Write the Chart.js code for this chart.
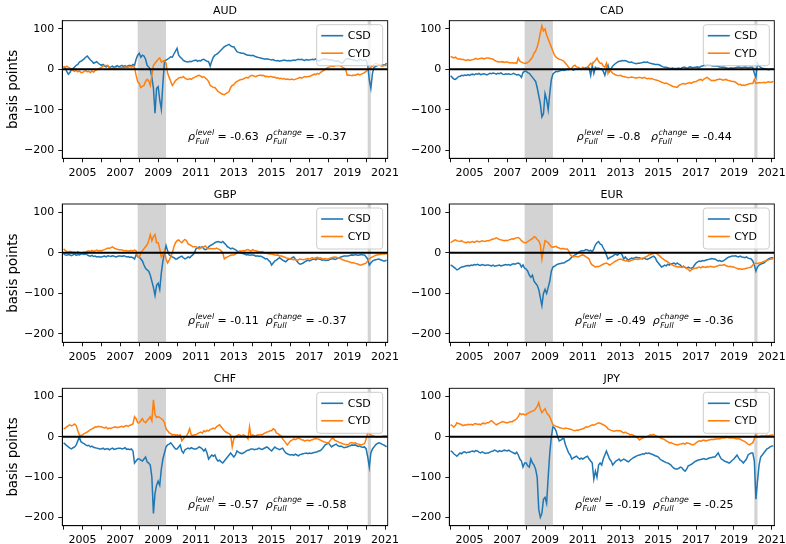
<!DOCTYPE html>
<html lang="en">
<head>
<meta charset="UTF-8">
<title>CSD vs CYD</title>
<script src="https://cdn.jsdelivr.net/npm/chart.js"></script>
<style>
  body { margin: 0; background: #fff; width: 786px; height: 544px; position: relative; overflow: hidden; }
  canvas { position: absolute; }
</style>
</head>
<body>
<script>
// monthly observations, Jan 2004 .. Feb 2021
const startYear = 2004;
const nObs = 206;
const months = [];
for (let i = 0; i < nObs; i++) months.push(startYear + i / 12);

// recession shading (NBER): Dec 2007 - Jun 2009, Feb 2020 - Apr 2020
const recessionStart = [2007.917, 2020.083];
const recessionEnd = [2009.417, 2020.25];

const xTicks = [2005, 2007, 2009, 2011, 2013, 2015, 2017, 2019, 2021];
const yTicks = [-200, -100, 0, 100];

const audCSD = [
  7, 3, -5, -12, -8, 0, 2, 6, 10, 12, 18, 20,
  23, 26, 30, 33, 28, 23, 20, 15, 17, 19, 15, 12,
  10, 12, 8, 6, 9, 5, 6, 8, 5, 7, 9, 6,
  8, 10, 7, 9, 6, 9, 10, 8, 12, 10, 25, 35,
  40, 30, 35, 33, 25, 10, 6, 0, -20, -47, -109, -47,
  -43, -76, -99, -35, 19, 23, 25, 28, 31, 30, 38, 45,
  52, 35, 30, 27, 22, 20, 19, 18, 20, 19, 21, 22,
  23, 20, 22, 21, 24, 25, 22, 20, 19, 8, 20, 30,
  35, 37, 40, 44, 48, 52, 56, 58, 60, 62, 58, 56,
  56, 50, 44, 42, 41, 40, 40, 38, 36, 35, 35, 34,
  35, 33, 31, 30, 29, 28, 27, 26, 25, 26, 25, 24,
  23, 24, 22, 21, 22, 20, 21, 22, 23, 22, 21, 22,
  21, 22, 23, 22, 24, 25, 24, 25, 23, 22, 24, 23,
  23, 24, 25, 24, 26, 22, 21, 23, 24, 25, 26, 25,
  23, 24, 23, 22, 21, 20, 21, 19, 16, 15, 20, 25,
  27, 26, 25, 24, 23, 22, 21, 22, 24, 23, 22, 23,
  23, 10, -26, -47, -10, 5, 7, 9, 11, 10, 12, 11,
  11, 15
];
const audCYD = [
  7, 5, 8, 5, 3, 0, -3, -5, -2, -6, -4, -8,
  -8, -5, -3, -6, -5, -8, -4, -7, -3, -1, 0, 3,
  5, 8, 10, 9, 10, 2, 0, 3, 2, 4, 1, 3,
  3, 5, 4, 6, 5, 5, 7, 6, 7, 5, -15, -30,
  -35, -45, -42, -40, -30, -25, -28, -40, -15, 10, 15, 20,
  25, 28, 18, 20, 22, 15, -10, -20, -30, -40, -35, -28,
  -25, -22, -20, -21, -18, -22, -24, -25, -23, -25, -22, -20,
  -18, -16, -15, -17, -20, -18, -22, -25, -30, -40, -42, -45,
  -45, -50, -55, -57, -60, -62, -63, -60, -58, -55, -45, -40,
  -38, -33, -30, -28, -26, -25, -24, -22, -20, -22, -18, -15,
  -15, -17, -18, -16, -15, -14, -16, -15, -18, -17, -19, -18,
  -18, -20, -19, -22, -21, -23, -22, -24, -23, -25, -24, -25,
  -25, -24, -26, -25, -23, -22, -20, -22, -20, -18, -19, -18,
  -18, -16, -14, -12, -13, -10, -12, -8, -5, -3, 0, 3,
  5, 6, 8, 7, 8, 10, 9, 10, 8, 5, 3, 0,
  -15, -14, -15, -16, -14, -15, -13, -12, -14, -12, -10, -8,
  -5, 0, 2, 5, 8, 12, 15, 13, 12, 10, 8, 9,
  10, 9
];

const cadCSD = [
  -16, -20, -24, -25, -22, -18, -17, -15, -16, -14, -15, -13,
  -15, -13, -12, -14, -11, -12, -10, -13, -12, -11, -12, -14,
  -12, -10, -11, -9, -10, -12, -10, -11, -9, -12, -13, -11,
  -12, -11, -13, -12, -10, -12, -14, -13, -15, -20, -8, -5,
  -5, -8, -10, -15, -20, -25, -30, -45, -65, -85, -118, -110,
  -60, -75, -100, -60, -25, -12, -8, -5, -6, -4, -3, -2,
  -3, -2, 0, -1, 1, 0, -2, 0, 1, 0, 2, 0,
  0, 2, 4, 5, 3, -15, 10, -10, 5, 2, 3, 1,
  2, -5, -15, 0, 10, -5, 2, 8, 12, 15, 18, 20,
  20, 22, 21, 22, 20, 18, 17, 18, 16, 15, 14, 15,
  15, 16, 17, 18, 17, 18, 16, 15, 14, 13, 12, 12,
  12, 10, 8, 6, 5, 5, 4, 3, 2, 3, 2, 2,
  2, 3, 1, 4, 5, 5, 3, 4, 6, 5, 4, 5,
  5, 6, 4, 7, 8, 10, 9, 12, 11, 10, 9, 8,
  8, 9, 7, 6, 5, 6, 5, 4, 3, 2, 4, 3,
  3, 4, 5, 6, 5, 4, 5, 6, 5, 4, 5, 5,
  5, -10, -20, 15, 8, 5, 3, 2, 1, 0, -1, 0,
  0, 1
];
const cadCYD = [
  32, 30, 28, 30, 27, 25, 26, 24, 25, 23, 22, 24,
  22, 23, 24, 25, 27, 25, 26, 27, 28, 26, 27, 28,
  28, 27, 26, 25, 22, 20, 19, 18, 18, 19, 17, 18,
  18, 17, 16, 17, 15, 16, 15, 28, 20, 18, 16, 15,
  15, 17, 20, 25, 30, 40, 45, 55, 70, 90, 108, 95,
  100, 85, 75, 65, 55, 45, 35, 30, 27, 25, 24, 22,
  20, 15, 10, 5, 0, 3, 8, 10, 6, 5, 3, 0,
  5, 3, 0, 5, 10, 15, 12, 18, 22, 28, 20, 15,
  15, 8, 5, 15, -10, 0, -5, -10, -12, -14, -15, -16,
  -15, -17, -18, -19, -20, -21, -20, -19, -20, -21, -22, -20,
  -20, -21, -22, -20, -22, -23, -22, -24, -23, -25, -26, -27,
  -28, -30, -32, -33, -35, -34, -36, -38, -40, -42, -43, -44,
  -45, -40, -38, -36, -35, -37, -35, -34, -33, -35, -32, -31,
  -30, -28, -26, -25, -28, -24, -22, -20, -23, -26, -28, -27,
  -28, -26, -25, -24, -25, -27, -26, -25, -27, -28, -29, -30,
  -30, -32, -35, -38, -37, -40, -39, -40, -38, -37, -36, -35,
  -35, -25, -35, -34, -33, -34, -33, -32, -33, -32, -31, -32,
  -32, -30
];

const gbpCSD = [
  -3, -5, -6, -4, -5, -7, -5, -3, -6, -4, -5, -3,
  -3, -4, -2, -5, -7, -8, -6, -9, -8, -10, -9, -10,
  -10, -9, -8, -10, -7, -8, -9, -7, -8, -10, -9, -8,
  -8, -9, -7, -8, -10, -9, -11, -10, -12, -15, -5, -8,
  -10, -15, -20, -30, -38, -42, -45, -55, -70, -85, -105, -80,
  -75, -90, -50, -20, 0, 18, 5, -5, -8, -10, -12, -15,
  -15, -12, -10, -8, -12, -15, -13, -10, -12, -8, -5, 0,
  10, 12, 15, 13, 15, 10, 8, 10, 15, 18, 20, 22,
  25, 27, 28, 27, 25, 28, 24, 20, 15, 13, 10, 12,
  10, 8, 5, 3, 2, 0, -2, -3, -5, -4, -6, -5,
  -5, -6, -8, -7, -9, -8, -10, -12, -15, -14, -18, -22,
  -30, -25, -20, -18, -15, -12, -15, -18, -20, -22, -18, -15,
  -15, -12, -10, -15, -20, -25, -28, -27, -25, -22, -20, -18,
  -20, -18, -16, -15, -17, -14, -15, -16, -18, -17, -19, -18,
  -18, -16, -15, -14, -16, -15, -13, -12, -10, -9, -8, -8,
  -8, -7, -6, -5, -6, -4, -5, -6, -5, -4, -5, -5,
  -10, -15, -30, -25, -20, -18, -17, -16, -15, -17, -18, -20,
  -20, -18
];
const gbpCYD = [
  10, 6, 3, 2, 4, 3, 1, 2, 0, 3, 1, 0,
  0, 2, 1, 4, 5, 3, 6, 4, 5, 7, 5, 6,
  5, 7, 8, 10, 12, 11, 13, 15, 12, 10, 9, 8,
  8, 7, 6, 5, 6, 4, 5, 6, 5, 7, 5, -10,
  -10, 0, 5, 10, 15, 20, 30, 45, 30, 40, 45, 25,
  25, 10, -10, -5, 5, -15, -25, -18, -10, 0, 15, 25,
  30, 32, 28, 25, 30, 33, 30, 22, 20, 18, 15, 15,
  15, 13, 10, 12, 14, 15, 17, 12, 10, 11, 10, 10,
  10, 12, 10, 8, 5, 0, -15, -12, -10, -8, -6, -5,
  -5, -3, 0, 2, 5, 4, 6, 5, 7, 8, 6, 5,
  8, 6, 5, 4, 3, 2, 3, 1, 0, -1, -2, -3,
  -3, -4, -5, -6, -5, -8, -7, -9, -10, -12, -13, -14,
  -15, -16, -17, -16, -18, -17, -15, -16, -17, -16, -15, -14,
  -15, -13, -12, -14, -12, -11, -13, -12, -14, -15, -14, -15,
  -15, -13, -12, -11, -10, -11, -12, -13, -15, -17, -18, -20,
  -20, -22, -23, -25, -24, -26, -27, -28, -30, -30, -28, -27,
  -25, -20, -15, -12, -10, -8, -6, -5, -4, -4, -3, -3,
  -3, -2
];

const eurCSD = [
  -30, -32, -35, -38, -42, -40, -37, -35, -34, -33, -32, -31,
  -32, -30, -31, -29, -30, -28, -30, -31, -29, -30, -31, -30,
  -30, -31, -32, -30, -33, -32, -31, -30, -32, -31, -30, -29,
  -30, -29, -31, -28, -27, -28, -26, -25, -27, -35, -30, -38,
  -40, -45, -55, -60, -55, -70, -75, -80, -90, -110, -130, -100,
  -90, -100, -85, -70, -45, -35, -33, -30, -28, -27, -26, -25,
  -25, -22, -20, -18, -15, -10, -8, -5, -3, 0, 3, 5,
  5, 6, 8, 7, 5, 6, 3, 10, 20, 25, 28, 22,
  20, 12, 5, -5, -15, -12, -10, -8, -5, -3, -6, -2,
  0, -5, -15, -10, -15, -18, -15, -13, -14, -12, -11, -12,
  -12, -14, -15, -13, -15, -16, -14, -12, -10, -8, -12, -20,
  -25, -30, -35, -33, -30, -32, -28, -30, -27, -26, -25, -28,
  -25, -28, -30, -35, -33, -36, -38, -35, -37, -38, -36, -30,
  -25, -22, -20, -21, -19, -20, -18, -17, -16, -15, -14, -15,
  -15, -18, -20, -19, -21, -20, -18, -15, -12, -10, -9, -8,
  -8, -7, -9, -10, -8, -10, -11, -12, -10, -13, -14, -15,
  -20, -30, -45, -35, -30, -28, -26, -25, -22, -18, -15, -13,
  -12, -12
];
const eurCYD = [
  25, 28, 30, 32, 30, 29, 28, 30, 27, 26, 25, 27,
  25, 27, 28, 26, 28, 29, 27, 28, 30, 29, 28, 30,
  30, 31, 33, 34, 35, 37, 35, 33, 32, 31, 30, 31,
  30, 32, 33, 35, 34, 36, 37, 38, 35, 30, 27, 25,
  25, 28, 30, 33, 35, 40, 38, 33, 30, 20, -15, 10,
  30, 28, 25, 20, 15, 14, 15, 16, 13, 12, 10, 11,
  10, 9, 10, 5, -5, -8, -10, -8, -9, -10, -8, -6,
  -5, -7, -10, -12, -15, -25, -30, -32, -35, -33, -34, -32,
  -30, -28, -26, -25, -27, -30, -28, -25, -22, -20, -18, -16,
  -15, -17, -18, -20, -19, -21, -20, -18, -17, -16, -15, -16,
  -15, -14, -13, -12, -10, -8, -5, -4, -3, -1, 0, -2,
  -5, -8, -12, -15, -18, -20, -22, -25, -28, -30, -32, -33,
  -35, -34, -35, -36, -34, -35, -38, -40, -45, -42, -40, -38,
  -38, -36, -35, -37, -34, -35, -36, -34, -35, -33, -34, -35,
  -35, -33, -32, -30, -31, -30, -29, -32, -33, -34, -33, -35,
  -35, -37, -38, -40, -39, -41, -40, -39, -38, -37, -36, -35,
  -30, -27, -25, -26, -25, -24, -23, -21, -20, -19, -17, -16,
  -15, -14
];

const chfCSD = [
  -15, -18, -22, -25, -28, -30, -27, -25, -20, -10, 0, -12,
  -15, -17, -20, -22, -21, -25, -23, -26, -27, -28, -29, -30,
  -30, -28, -31, -30, -29, -32, -30, -28, -31, -30, -29, -28,
  -28, -30, -29, -27, -31, -30, -32, -30, -35, -65, -60, -55,
  -55, -58, -60, -55, -50, -62, -65, -70, -100, -190, -140, -120,
  -110, -120, -80, -55, -40, -25, -20, -18, -15, -20, -25, -30,
  -30, -25, -20, -35, -40, -32, -30, -28, -30, -27, -29, -30,
  -30, -28, -25, -27, -30, -35, -30, -40, -55, -50, -45, -48,
  -45, -55, -60, -58, -62, -65, -60, -55, -50, -45, -40, -45,
  -50, -45, -35, -38, -40, -42, -40, -38, -35, -33, -32, -30,
  -30, -32, -31, -30, -28, -30, -31, -29, -27, -25, -28, -32,
  -35, -30, -25, -28, -30, -32, -30, -28, -35, -40, -42, -44,
  -45, -44, -46, -43, -45, -47, -44, -43, -42, -41, -40, -42,
  -40, -41, -40, -39, -38, -37, -35, -34, -30, -25, -20, -18,
  -15, -20, -25, -22, -20, -18, -22, -24, -23, -25, -27, -26,
  -25, -23, -22, -20, -21, -20, -22, -24, -23, -25, -26, -25,
  -30, -50, -75, -40, -30, -25, -20, -17, -15, -16, -18, -20,
  -22, -25
];
const chfCYD = [
  20, 22, 25, 28, 30, 27, 29, 32, 28, 15, 5, 3,
  5, 8, 10, 12, 15, 18, 20, 22, 25, 24, 26, 25,
  25, 23, 22, 24, 20, 22, 21, 23, 24, 25, 23, 24,
  25, 26, 24, 27, 28, 26, 29, 30, 32, 50, 45, 35,
  35, 40, 45, 38, 35, 40, 45, 50, 40, 92, 55, 48,
  50, 48, 45, 42, 35, 20, 15, 10, 8, 5, 6, 4,
  5, 3, 5, -10, -5, 0, 2, 10, 20, 5, 3, 5,
  5, 8, 10, 12, 9, 15, 13, 16, 15, 18, 20, 22,
  20, 25, 28, 30, 25, 20, 15, 12, 10, 8, 5, -25,
  -5, 0, 3, 5, 4, 2, 5, 3, 0, -5, 25, 0,
  5, 3, 2, 5, 4, 6, 5, 8, 10, 12, 13, 15,
  15, 20, 18, 10, 8, 5, 2, -5, -10, -15, -20, -15,
  -10, -8, -5, -7, -5, -3, -5, -7, -8, -10, -9, -8,
  -10, -8, -7, -5, -4, -5, -6, -8, -10, -12, -13, -15,
  -15, -10, -5, -3, -8, -10, -12, -14, -15, -17, -18, -19,
  -20, -18, -15, -14, -16, -15, -17, -18, -19, -20, -18, -17,
  -5, 10, 8, 5, 3, 2, 0, -1, 1, 0, 1, 2,
  2, 3
];

const jpyCSD = [
  -35, -37, -42, -45, -48, -44, -40, -42, -38, -37, -40, -38,
  -38, -36, -35, -37, -34, -35, -38, -40, -37, -39, -41, -40,
  -40, -38, -36, -35, -33, -35, -37, -34, -36, -35, -33, -34,
  -35, -33, -36, -38, -40, -42, -38, -45, -55, -60, -75, -65,
  -65, -72, -75, -55, -65, -70, -80, -100, -180, -200, -190, -155,
  -150, -165, -100, -40, 0, 25, 22, 15, 0, -10, -8, -5,
  -5, -20, -30, -40, -45, -55, -52, -50, -48, -52, -55, -53,
  -55, -52, -50, -48, -55, -60, -65, -105, -85, -100, -70, -65,
  -70, -55, -45, -35, -45, -55, -60, -70, -65, -60, -58, -55,
  -60, -58, -55, -57, -60, -62, -58, -55, -52, -50, -48, -46,
  -45, -44, -42, -43, -40, -41, -40, -42, -43, -45, -47, -48,
  -50, -55, -58, -60, -62, -64, -65, -67, -70, -75, -78, -80,
  -80, -78, -75, -77, -82, -85, -80, -72, -70, -68, -65, -62,
  -60, -58, -57, -56, -55, -54, -56, -55, -53, -52, -51, -50,
  -50, -45, -40, -48, -55, -57, -60, -62, -63, -65, -62, -58,
  -55, -50, -45, -52, -58, -60, -65, -60, -55, -45, -42, -40,
  -40, -60, -155, -110, -70, -50, -45, -40, -35, -30, -28, -25,
  -23, -22
];
const jpyCYD = [
  30, 28, 24, 28, 35, 33, 32, 30, 28, 30, 29, 31,
  30, 31, 29, 32, 33, 31, 32, 30, 33, 34, 32, 35,
  35, 38, 40, 37, 33, 30, 32, 34, 36, 38, 37, 35,
  35, 36, 38, 37, 40, 42, 45, 50, 58, 55, 57, 55,
  55, 58, 60, 62, 64, 65, 70, 75, 85, 70, 60, 65,
  70, 60, 55, 50, 40, 30, 28, 26, 25, 23, 22, 21,
  20, 22, 21, 20, 19, 18, 16, 15, 17, 16, 18, 19,
  20, 22, 25, 24, 26, 28, 30, 29, 31, 33, 35, 34,
  32, 30, 28, 25, 20, 18, 16, 15, 14, 15, 16, 15,
  15, 12, 10, 12, 9, 8, 5, 6, 4, 2, 0, -3,
  -8, -5, -3, -2, 0, 1, 3, 5, 4, 6, 3, 2,
  0, -2, -4, -5, -7, -10, -12, -15, -14, -16, -18, -19,
  -20, -19, -18, -17, -16, -18, -15, -16, -17, -19, -20, -18,
  -15, -12, -10, -11, -9, -8, -10, -9, -8, -7, -6, -7,
  -5, -6, -4, -5, -3, -2, -3, -2, -1, -3, -2, -3,
  -3, -4, -5, -4, -6, -8, -10, -12, -15, -18, -20, -17,
  -15, -5, 5, 0, 1, 2, 3, 2, 3, 4, 3, 4,
  4, 5
];

const panels = [
  { name: 'AUD', csd: audCSD, cyd: audCYD, level: '-0.63', change: '-0.37' },
  { name: 'CAD', csd: cadCSD, cyd: cadCYD, level: '-0.8', change: '-0.44' },
  { name: 'GBP', csd: gbpCSD, cyd: gbpCYD, level: '-0.11', change: '-0.37' },
  { name: 'EUR', csd: eurCSD, cyd: eurCYD, level: '-0.49', change: '-0.36' },
  { name: 'CHF', csd: chfCSD, cyd: chfCYD, level: '-0.57', change: '-0.58' },
  { name: 'JPY', csd: jpyCSD, cyd: jpyCYD, level: '-0.19', change: '-0.25' }
];

// page geometry (px): canvas box and plot-area edges per column / row
const cols = [
  { cx: 0, cw: 420, left: 62.3, right: 387.7 },
  { cx: 393, cw: 393, left: 449.3, right: 774.3 }
];
const rows = [
  { cy: 0, ch: 184, top: 20.7, bottom: 158.3 },
  { cy: 184, ch: 184, top: 204, bottom: 342.3 },
  { cy: 368, ch: 176, top: 388.3, bottom: 525.7 }
];

const FONT = '"DejaVu Sans", sans-serif';
Chart.defaults.font.family = FONT;
Chart.defaults.color = '#000';

// shading + zero line + frame + title + legend + annotation
const decorPlugin = {
  id: 'decor',
  beforeDatasetsDraw(chart) {
    const { ctx, chartArea: a, scales: { x } } = chart;
    ctx.save();
    ctx.fillStyle = '#d3d3d3';
    recessionStart.forEach((s, i) => {
      const x0 = x.getPixelForValue(s), x1 = x.getPixelForValue(recessionEnd[i]);
      ctx.fillRect(x0, a.top, x1 - x0, a.bottom - a.top);
    });
    ctx.restore();
  },
  afterDatasetsDraw(chart) {
    const { ctx, chartArea: a, scales: { y } } = chart;
    const y0 = y.getPixelForValue(0);
    ctx.save();
    ctx.strokeStyle = '#000';
    ctx.lineWidth = 2;
    ctx.beginPath();
    ctx.moveTo(a.left, y0);
    ctx.lineTo(a.right, y0);
    ctx.stroke();
    ctx.restore();
  },
  afterDraw(chart, args, opts) {
    const { ctx, chartArea: a } = chart;
    const p = opts.panel;
    ctx.save();
    // frame
    ctx.strokeStyle = '#000';
    ctx.lineWidth = 0.9;
    ctx.strokeRect(a.left, a.top, a.right - a.left, a.bottom - a.top);

    // title
    ctx.fillStyle = '#000';
    ctx.font = '11px ' + FONT;
    ctx.textAlign = 'center';
    ctx.textBaseline = 'alphabetic';
    ctx.fillText(p.name, (a.left + a.right) / 2, a.top - 6.5);

    // legend
    const lw = 66, lh = 41;
    const lx = a.right - 5 - lw, ly = a.top + 4;
    ctx.beginPath();
    ctx.roundRect(lx, ly, lw, lh, 3);
    ctx.fillStyle = 'rgba(255,255,255,0.8)';
    ctx.fill();
    ctx.strokeStyle = '#cccccc';
    ctx.lineWidth = 1;
    ctx.stroke();
    ctx.textAlign = 'left';
    ctx.textBaseline = 'middle';
    chart.data.datasets.forEach((ds, i) => {
      const ry = ly + 11 + i * 17.5;
      ctx.strokeStyle = ds.borderColor;
      ctx.lineWidth = 1.6;
      ctx.beginPath();
      ctx.moveTo(lx + 4.5, ry);
      ctx.lineTo(lx + 26.5, ry);
      ctx.stroke();
      ctx.fillStyle = '#000';
      ctx.font = '11px ' + FONT;
      ctx.fillText(ds.label, lx + 31, ry + 0.5);
    });

    // correlation annotation
    const base = a.bottom - 18;
    const parts = [
      { sup: 'level', text: ' = ' + p.level.padEnd(5, ' ') + '  ' },
      { sup: 'change', text: ' = ' + p.change }
    ];
    const big = '11px ' + FONT, bigIt = 'italic 11px ' + FONT, small = 'italic 7.8px ' + FONT;
    const widthOf = (part) => {
      ctx.font = bigIt; const wr = ctx.measureText('\u03c1').width;
      ctx.font = small; const ws = Math.max(ctx.measureText(part.sup).width, ctx.measureText('Full').width);
      ctx.font = big; const wt = ctx.measureText(part.text).width;
      return wr + 0.5 + ws + wt;
    };
    const total = parts.reduce((s, q) => s + widthOf(q), 0);
    let tx = a.left + 205 - total / 2;
    ctx.textAlign = 'left';
    ctx.textBaseline = 'alphabetic';
    ctx.fillStyle = '#000';
    parts.forEach(q => {
      ctx.font = bigIt;
      ctx.fillText('\u03c1', tx, base);
      tx += ctx.measureText('\u03c1').width + 0.5;
      ctx.font = small;
      ctx.fillText(q.sup, tx, base - 5.6);
      ctx.fillText('Full', tx, base + 3.2);
      tx += Math.max(ctx.measureText(q.sup).width, ctx.measureText('Full').width);
      ctx.font = big;
      ctx.fillText(q.text, tx, base);
      tx += ctx.measureText(q.text).width;
    });
    ctx.restore();
  }
};

panels.forEach((p, k) => {
  const col = cols[k % 2], row = rows[Math.floor(k / 2)];
  const canvas = document.createElement('canvas');
  canvas.width = col.cw;
  canvas.height = row.ch;
  canvas.style.left = col.cx + 'px';
  canvas.style.top = row.cy + 'px';
  document.body.appendChild(canvas);

  const yAxisWidth = col.left - col.cx;
  const xAxisHeight = row.cy + row.ch - row.bottom;

  new Chart(canvas, {
    type: 'line',
    data: {
      datasets: [
        {
          label: 'CSD',
          data: months.map((m, i) => ({ x: m, y: p.csd[i] })),
          borderColor: '#1f77b4',
          borderWidth: 1.5,
          order: 2
        },
        {
          label: 'CYD',
          data: months.map((m, i) => ({ x: m, y: p.cyd[i] })),
          borderColor: '#ff7f0e',
          borderWidth: 1.5,
          order: 1
        }
      ]
    },
    options: {
      responsive: false,
      animation: false,
      events: [],
      elements: { point: { radius: 0 }, line: { tension: 0 } },
      layout: {
        padding: { left: 0, top: row.top - row.cy, right: col.cx + col.cw - col.right, bottom: 0 }
      },
      plugins: {
        legend: { display: false },
        tooltip: { enabled: false },
        decor: { panel: p }
      },
      scales: {
        x: {
          type: 'linear',
          min: 2003.93,
          max: 2021.14,
          afterFit(s) { s.height = xAxisHeight; s.paddingLeft = 0; s.paddingRight = 0; },
          border: { display: true, color: '#000', width: 0.9 },
          grid: { drawOnChartArea: false, drawTicks: true, tickLength: 4, tickColor: '#000', tickWidth: 0.9 },
          ticks: {
            stepSize: 1,
            autoSkip: false,
            includeBounds: false,
            maxRotation: 0,
            padding: 4,
            font: { size: 11 },
            callback: v => (xTicks.includes(v) ? String(v) : '')
          }
        },
        y: {
          min: -220.5,
          max: 120.5,
          afterFit(s) { s.width = yAxisWidth; s.paddingTop = 0; s.paddingBottom = 0; },
          border: { display: true, color: '#000', width: 0.9 },
          grid: { drawOnChartArea: false, drawTicks: true, tickLength: 4, tickColor: '#000', tickWidth: 0.9 },
          title: {
            display: k % 2 === 0,
            text: 'basis points',
            font: { size: 13.3 },
            padding: { top: 6, bottom: 0 }
          },
          ticks: {
            stepSize: 100,
            includeBounds: false,
            padding: 4,
            font: { size: 11 },
            callback: v => (yTicks.includes(v) ? (v < 0 ? '\u2212' + Math.abs(v) : String(v)) : '')
          }
        }
      }
    },
    plugins: [decorPlugin]
  });
});
</script>
</body>
</html>
